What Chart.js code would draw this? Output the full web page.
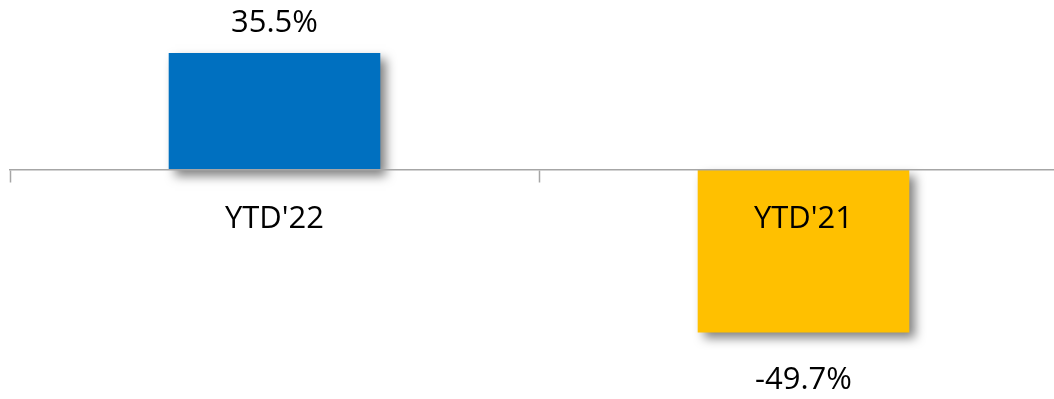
<!DOCTYPE html>
<html>
<head>
<meta charset="utf-8">
<script src="https://cdn.jsdelivr.net/npm/chart.js@4.4.1/dist/chart.umd.min.js"></script>
<style>
    html, body { margin: 0; padding: 0; background: #fff; overflow: hidden; }
    #wrap { width: 1070px; height: 399px; position: relative; }
</style>
</head>
<body>
<div id="wrap"><canvas id="chart"></canvas></div>
<script>
// Chart data
const categories = ["YTD'22", "YTD'21"];
const values = [35.5, -49.7];
const barColors = ['#0070C0', '#FFC000'];
const valueLabels = ['35.5%', '-49.7%'];

const FONT = "'Open Sans', 'Noto Sans', sans-serif";
const AXIS_GRAY = '#A6A6A6';

// Soft drop shadow behind the bars
const shadowPlugin = {
    id: 'barShadow',
    beforeDatasetsDraw(chart) {
        const ctx = chart.ctx;
        ctx.save();
        ctx.shadowColor = 'rgba(0, 0, 0, 0.5)';
        ctx.shadowBlur = 10;
        ctx.shadowOffsetX = 6;
        ctx.shadowOffsetY = 6;
    },
    afterDatasetsDraw(chart) {
        chart.ctx.restore();
    }
};

// Value labels above / below each bar
const valueLabelPlugin = {
    id: 'valueLabels',
    afterDraw(chart) {
        const ctx = chart.ctx;
        const meta = chart.getDatasetMeta(0);
        ctx.save();
        ctx.font = `31px ${FONT}`;
        ctx.fillStyle = '#000';
        ctx.textAlign = 'center';
        ctx.textBaseline = 'middle';
        meta.data.forEach((bar, i) => {
            const v = values[i];
            const y = v >= 0 ? bar.y - 30 : bar.y + 48;
            ctx.fillText(valueLabels[i], bar.x, y);
        });
        ctx.restore();
    }
};

new Chart(document.getElementById('chart').getContext('2d'), {
    type: 'bar',
    data: {
        labels: categories,
        datasets: [{
            data: values,
            backgroundColor: barColors,
            borderWidth: 0,
            barPercentage: 0.8,
            categoryPercentage: 0.5
        }]
    },
    options: {
        responsive: true,
        maintainAspectRatio: false,
        animation: false,
        layout: { padding: { left: 10, right: 2, top: 0, bottom: 0 } },
        plugins: {
            legend: { display: false },
            tooltip: { enabled: false }
        },
        scales: {
            x: {
                position: { y: 0 },
                offset: true,
                grid: {
                    display: true,
                    offset: true,
                    drawOnChartArea: false,
                    drawTicks: true,
                    tickLength: 12,
                    tickColor: AXIS_GRAY,
                    tickWidth: 1.5,
                    color: AXIS_GRAY
                },
                border: { display: true, color: AXIS_GRAY, width: 1.5, z: 1 },
                ticks: {
                    z: 1,
                    color: '#000',
                    font: { family: FONT, size: 31 },
                    padding: 19,
                    maxRotation: 0
                }
            },
            y: {
                display: false,
                min: -70,
                max: 51.7
            }
        }
    },
    plugins: [shadowPlugin, valueLabelPlugin]
});
</script>
</body>
</html>
